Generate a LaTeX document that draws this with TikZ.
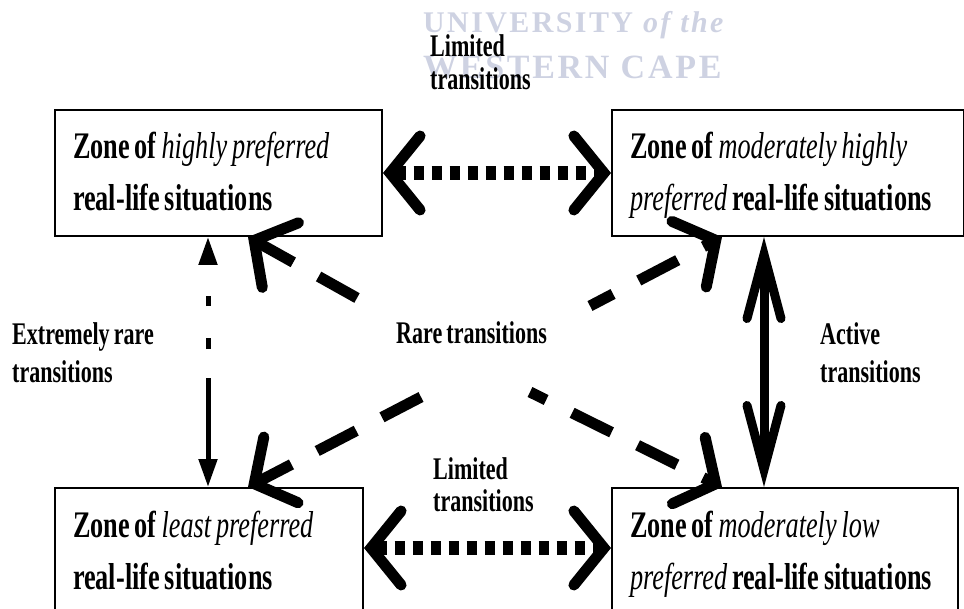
\documentclass[tikz,border=0pt]{standalone}
\usepackage{fontspec}
\setmainfont{Liberation Serif}[FakeStretch=0.70,WordSpace=0.75]
\newfontfamily\wmfont{Liberation Serif}[LetterSpace=8]
\usetikzlibrary{arrows.meta}
\definecolor{wm}{RGB}{206,210,226}
\newcommand\zi[1]{{\mdseries\itshape #1}}
\tikzset{
  chev/.tip={Straight Barb[length=30pt,width=74pt,line width=11pt,line cap=round,line join=miter]},
  vbarb/.tip={Straight Barb[length=64pt,width=34pt,line width=9pt,line cap=round,line join=miter]},
  tri/.tip={Triangle[length=28pt,width=18pt]},
  zone/.style={draw, line width=2pt, inner xsep=18pt, inner ysep=0pt, align=flush left,
    anchor=north west, font=\fontsize{37.5}{52}\selectfont\bfseries, text height=49pt},
  lab/.style={anchor=base west, align=left, inner sep=0pt, font=\fontsize{31.5}{33}\selectfont\bfseries},
  wmark/.style={anchor=base west, inner sep=0pt, text=wm},
  dotarr/.style={line width=14pt, dash pattern=on 10pt off 8pt, chev-chev},
  diag/.style={line width=11pt, dash pattern=on 44pt off 29pt, -chev},
  active/.style={line width=9pt, vbarb-vbarb},
  rarest/.style={line width=5pt, dash pattern=on 82pt off 29pt on 11pt off 32pt on 10pt off 60pt, tri-tri},
}
\begin{document}
\begin{tikzpicture}[x=1pt,y=-1pt]
\useasboundingbox (0,0) rectangle (964,609);
% watermark
\node[wmark, font=\wmfont\fontsize{30}{30}\selectfont\bfseries] (wm1) at (423,33) {UNIVERSITY \textit{of the}};
\node[wmark, font=\wmfont\fontsize{34}{34}\selectfont\bfseries] (wm2) at (423,79) {WESTERN CAPE};
% zones
\node[zone, text width=291pt, text depth=77pt] (tl) at (54,109)
  {Zone of \zi{highly preferred}\\real-life situations};
\node[zone, text width=316pt, text depth=77pt] (tr) at (611,109)
  {Zone of \zi{moderately highly}\\\zi{preferred} real-life situations};
\node[zone, text width=272pt, text depth=91pt] (bl) at (54,487)
  {Zone of \zi{least preferred}\\real-life situations};
\node[zone, text width=310pt, text depth=91pt] (br) at (611,487)
  {Zone of \zi{moderately low}\\\zi{preferred} real-life situations};
% coordinates
\coordinate (xl) at (208,0);
\coordinate (xr) at (764,0);
\coordinate (yb) at (0,548);
\coordinate (s1) at (357,298);
\coordinate (s2) at (590,306);
\coordinate (s3) at (421,397);
\coordinate (s4) at (530,392);
% connectors
\draw[dotarr] (tl.east) -- (tr.west);
\draw[dotarr] (bl.east |- yb) -- (br.west |- yb);
\draw[rarest] (xl |- bl.north) -- (xl |- tl.south);
\draw[active] (xr |- tr.south) -- (xr |- br.north);
\draw[diag] (s1) -- ([xshift=194pt]tl.south west);
\draw[diag, dash phase=18pt] (s2) -- ([xshift=111pt]tr.south west);
\draw[diag] (s3) -- ([xshift=194pt]bl.north west);
\draw[diag, dash phase=26pt] (s4) -- ([xshift=111pt]br.north west);
% labels (anchor = baseline of last line)
\node[lab] (lim1) at (430,90) {Limited\\transitions};
\node[lab, font=\fontsize{31.5}{32}\selectfont\bfseries] (lim2) at (433,511) {Limited\\transitions};
\node[lab, font=\fontsize{31.5}{38}\selectfont\bfseries] (ext) at (12,383) {Extremely rare\\transitions};
\node[lab] (rare) at (396,344) {Rare transitions};
\node[lab, font=\fontsize{31.5}{38}\selectfont\bfseries] (act) at (820,383) {Active\\transitions};
\end{tikzpicture}
\end{document}
